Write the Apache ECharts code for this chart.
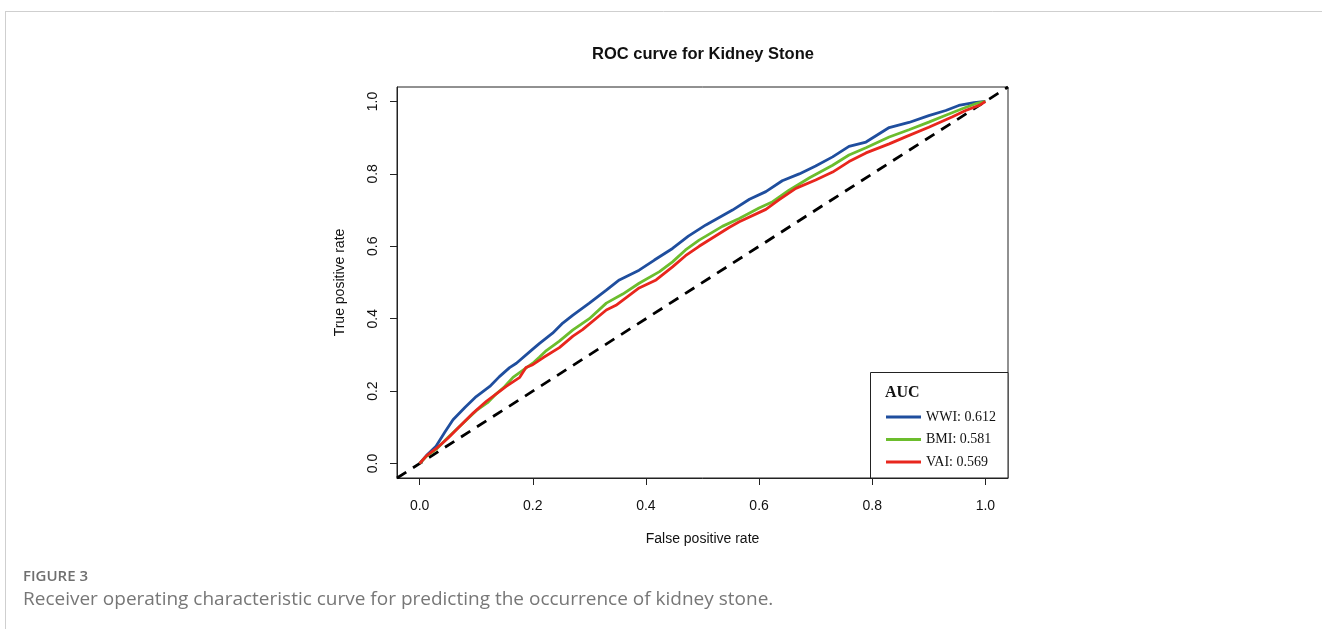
<!DOCTYPE html>
<html>
<head>
<meta charset="utf-8">
<script src="https://cdn.jsdelivr.net/npm/echarts@6/dist/echarts.min.js"></script>
<style>
html,body{margin:0;padding:0;background:#fff;}
#chart{width:1322px;height:629px;}
</style>
</head>
<body>
<div id="chart"></div>
<script>
// ---- data ----
const titleText = 'ROC curve for Kidney Stone';
const xAxisTitle = 'False positive rate';
const yAxisTitle = 'True positive rate';
const tickValues = [0, 0.2, 0.4, 0.6, 0.8, 1.0];
const seriesNames = ['WWI', 'BMI', 'VAI'];
const aucValues = ['0.612', '0.581', '0.569'];
const legendTitle = 'AUC';
const figureLabel = 'FIGURE 3';
const captionText = 'Receiver operating characteristic curve for predicting the occurrence of kidney stone.';

// ROC points [false positive rate, true positive rate]
const wwiRoc = [[0,0],[0.012,0.022],[0.029,0.048],[0.045,0.088],[0.059,0.121],[0.08,0.155],[0.1,0.185],[0.124,0.213],[0.141,0.240],[0.159,0.265],[0.171,0.277],[0.2,0.316],[0.212,0.332],[0.235,0.36],[0.253,0.388],[0.271,0.410],[0.3,0.443],[0.330,0.479],[0.353,0.507],[0.388,0.534],[0.415,0.562],[0.447,0.594],[0.475,0.628],[0.506,0.659],[0.553,0.70],[0.583,0.73],[0.612,0.751],[0.641,0.781],[0.671,0.80],[0.70,0.822],[0.73,0.847],[0.759,0.876],[0.789,0.888],[0.83,0.928],[0.865,0.942],[0.9,0.961],[0.93,0.975],[0.953,0.989],[0.98,0.997],[1,1]];
const bmiRoc = [[0,0],[0.012,0.02],[0.029,0.039],[0.05,0.072],[0.071,0.103],[0.1,0.146],[0.12,0.168],[0.135,0.192],[0.150,0.212],[0.165,0.238],[0.2,0.277],[0.212,0.294],[0.224,0.312],[0.247,0.338],[0.271,0.369],[0.3,0.40],[0.330,0.443],[0.359,0.468],[0.388,0.498],[0.424,0.530],[0.447,0.557],[0.47,0.59],[0.494,0.617],[0.506,0.628],[0.535,0.655],[0.565,0.677],[0.6,0.706],[0.624,0.723],[0.653,0.755],[0.69,0.79],[0.73,0.824],[0.759,0.852],[0.789,0.872],[0.83,0.902],[0.865,0.922],[0.9,0.943],[0.93,0.962],[0.959,0.98],[0.985,0.995],[1,1]];
const vaiRoc = [[0,0],[0.012,0.021],[0.029,0.041],[0.05,0.07],[0.071,0.103],[0.095,0.14],[0.118,0.172],[0.135,0.192],[0.153,0.213],[0.177,0.238],[0.188,0.265],[0.2,0.273],[0.218,0.292],[0.247,0.320],[0.271,0.352],[0.288,0.37],[0.330,0.424],[0.347,0.437],[0.388,0.485],[0.418,0.507],[0.447,0.543],[0.47,0.574],[0.494,0.600],[0.506,0.612],[0.547,0.652],[0.565,0.668],[0.612,0.702],[0.635,0.728],[0.665,0.760],[0.70,0.783],[0.73,0.805],[0.759,0.834],[0.789,0.858],[0.83,0.883],[0.86,0.903],[0.9,0.929],[0.941,0.957],[0.965,0.975],[0.99,0.99],[1,1]];
const refLine = [[-0.04,-0.04],[1.04,1.04]];
const axisMin = -0.04, axisMax = 1.04;

// ---- styles ----
const colors = ['#1f4e9e', '#6cbd2d', '#e8261d'];
const sans = 'Liberation Sans, Arial, sans-serif';
const serif = 'Liberation Serif, Times New Roman, serif';
const rocData = [wwiRoc, bmiRoc, vaiRoc];
const aucMap = {};
seriesNames.forEach((n, i) => aucMap[n] = aucValues[i]);

const chart = echarts.init(document.getElementById('chart'), null, {renderer: 'canvas'});

const series = seriesNames.map((name, i) => ({
  name: name,
  type: 'line',
  data: rocData[i],
  showSymbol: false,
  symbol: 'none',
  lineStyle: {color: colors[i], width: 2.8},
  itemStyle: {color: colors[i]},
  z: 3 + i,
  animation: false
}));
series.push({
  name: 'ref',
  type: 'line',
  data: refLine,
  showSymbol: false,
  symbol: 'none',
  lineStyle: {color: '#000', width: 2.8, type: [11, 8]},
  z: 2,
  animation: false,
  silent: true
});

const axisCommon = {
  type: 'value',
  min: axisMin,
  max: axisMax,
  splitLine: {show: false},
  axisLine: {show: true, onZero: false, lineStyle: {color: '#222', width: 1}},
  axisTick: {show: true, inside: false, length: 7, customValues: tickValues, lineStyle: {color: '#222', width: 1}},
  nameLocation: 'middle',
  nameTextStyle: {fontFamily: sans, fontSize: 14, color: '#111'}
};

chart.setOption({
  backgroundColor: '#fff',
  animation: false,
  title: {
    text: titleText,
    left: 698,
    textAlign: 'center',
    top: 41,
    textStyle: {fontFamily: sans, fontSize: 16.5, fontWeight: 'bold', color: '#111'}
  },
  grid: {
    left: 397, top: 87, width: 611, height: 391,
    show: true, borderColor: '#222', borderWidth: 1, backgroundColor: 'transparent'
  },
  xAxis: Object.assign({}, axisCommon, {
    name: xAxisTitle,
    nameGap: 54,
    axisLabel: {customValues: tickValues, margin: 21, fontFamily: sans, fontSize: 14, color: '#111',
      formatter: v => v.toFixed(1)}
  }),
  yAxis: Object.assign({}, axisCommon, {
    name: yAxisTitle,
    nameGap: 50,
    nameRotate: 90,
    axisLabel: {customValues: tickValues, margin: 17, rotate: 90, fontFamily: sans, fontSize: 14, color: '#111',
      formatter: v => v.toFixed(1)}
  }),
  legend: {
    data: seriesNames,
    orient: 'vertical',
    left: 881,
    top: 405,
    z: 30,
    icon: 'rect',
    itemWidth: 35,
    itemHeight: 3,
    itemGap: 8.5,
    selectedMode: false,
    formatter: name => name + ': ' + aucMap[name],
    textStyle: {fontFamily: serif, fontSize: 14, color: '#111', lineHeight: 14}
  },
  graphic: [
    {type: 'line', shape: {x1: 5, y1: 11.5, x2: 1322, y2: 11.5}, style: {stroke: '#cfcfcf', lineWidth: 1}, silent: true},
    {type: 'line', shape: {x1: 5.5, y1: 11, x2: 5.5, y2: 629}, style: {stroke: '#cfcfcf', lineWidth: 1}, silent: true},
    {type: 'rect', shape: {x: 870.5, y: 372.5, width: 137.5, height: 105.5}, style: {fill: '#fff', stroke: '#222', lineWidth: 1}, z: 1, silent: true},
    {type: 'text', x: 885, y: 393, style: {text: legendTitle, font: 'bold 16px ' + serif, fill: '#111', verticalAlign: 'middle'}, z: 2, silent: true},
    {type: 'text', x: 23, y: 577, style: {text: figureLabel, font: '600 15px "Open Sans", sans-serif', fill: '#6f6f6f', verticalAlign: 'middle'}, silent: true},
    {type: 'text', x: 23, y: 600, style: {text: captionText, font: '19px "Open Sans", sans-serif', fill: '#777', verticalAlign: 'middle'}, silent: true}
  ],
  series: series
});
</script>
</body>
</html>
